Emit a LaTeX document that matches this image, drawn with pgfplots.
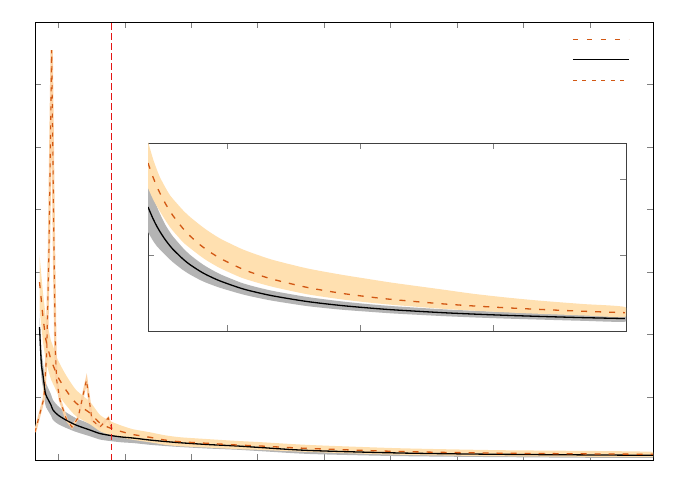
\documentclass[border=0pt]{standalone}
\usepackage{pgfplots}
\pgfplotsset{compat=1.18}
\usepackage{pgfplotstable}
\definecolor{vermil}{RGB}{210,88,20}
\definecolor{oband}{RGB}{255,224,176}
\definecolor{gband}{RGB}{180,180,180}
\definecolor{spkhalo}{RGB}{252,210,165}
\definecolor{redline}{RGB}{228,20,20}
\definecolor{tickgray}{RGB}{128,128,128}

% main curves: black (b) and orange dashed (o)
\pgfplotstableread{
x b o
0.713 2.125 2.843
0.740 1.550 2.556
0.765 1.358 2.284
0.790 1.150 2.077
0.810 1.038 1.917
0.886 0.879 1.597
0.916 0.799 1.518
0.991 0.719 1.326
1.111 0.639 1.118
1.262 0.559 0.911
1.473 0.479 0.751
1.623 0.423 0.590
1.789 0.391 0.506
1.955 0.367 0.452
2.121 0.351 0.407
2.376 0.319 0.363
2.602 0.296 0.319
2.828 0.276 0.292
3.234 0.248 0.267
3.687 0.224 0.240
4.034 0.200 0.224
4.785 0.152 0.184
6.142 0.112 0.136
7.648 0.091 0.109
9.946 0.075 0.091
}\maintab

% grey band (upper edge forward, lower edge back)
\pgfplotstableread{
x y
0.713 2.345
0.740 1.760
0.765 1.558
0.790 1.345
0.810 1.228
0.886 1.049
0.916 0.959
0.991 0.863
1.111 0.764
1.262 0.669
1.473 0.579
1.623 0.519
1.789 0.481
1.955 0.452
2.121 0.431
2.376 0.395
2.602 0.368
2.828 0.344
3.234 0.312
3.687 0.284
4.034 0.258
4.785 0.208
6.142 0.162
7.648 0.136
9.946 0.115
9.946 0.035
7.648 0.046
6.142 0.062
4.785 0.096
4.034 0.142
3.687 0.164
3.234 0.184
2.828 0.208
2.602 0.224
2.376 0.243
2.121 0.271
1.955 0.282
1.789 0.301
1.623 0.327
1.473 0.379
1.262 0.449
1.111 0.514
0.991 0.575
0.916 0.639
0.886 0.709
0.810 0.848
0.790 0.955
0.765 1.158
0.740 1.340
0.713 1.905
}\gbandtab

% orange band
\pgfplotstableread{
x y
0.713 3.273
0.740 2.966
0.765 2.674
0.790 2.447
0.810 2.267
0.886 1.907
0.916 1.818
0.991 1.596
1.111 1.358
1.262 1.121
1.473 0.931
1.623 0.720
1.789 0.616
1.955 0.547
2.121 0.492
2.376 0.443
2.602 0.395
2.828 0.364
3.234 0.335
3.687 0.305
4.034 0.286
4.785 0.240
6.142 0.188
7.648 0.157
9.946 0.131
9.946 0.051
7.648 0.061
6.142 0.084
4.785 0.128
4.034 0.162
3.687 0.175
3.234 0.199
2.828 0.220
2.602 0.243
2.376 0.283
2.121 0.322
1.955 0.357
1.789 0.396
1.623 0.460
1.473 0.571
1.262 0.701
1.111 0.878
0.991 1.056
0.916 1.218
0.886 1.287
0.810 1.567
0.790 1.707
0.765 1.894
0.740 2.146
0.713 2.413
}\obandtab

\pgfplotstableread{
x y
0.645 0.447
0.780 0.990
0.821 1.709
0.855 3.355
0.896 6.550
0.931 3.355
0.953 1.709
0.971 1.278
1.021 0.958
1.122 0.639
1.202 0.527
1.292 0.671
1.420 1.278
1.503 0.639
1.623 0.527
1.748 0.671
1.800 0.511
}\spiketab

% inset: O orange dashed, B black
\pgfplotstableread{
x O B
0.406 2.211 1.632
0.444 2.024 1.477
0.474 1.897 1.373
0.496 1.813 1.307
0.534 1.686 1.205
0.571 1.577 1.121
0.594 1.517 1.074
0.669 1.349 0.947
0.722 1.251 0.873
0.797 1.135 0.787
0.850 1.066 0.736
0.947 0.958 0.659
1.098 0.829 0.566
1.195 0.763 0.520
1.346 0.680 0.462
1.602 0.574 0.388
1.850 0.499 0.337
2.053 0.452 0.305
2.248 0.414 0.279
2.602 0.360 0.243
2.850 0.330 0.223
3.105 0.305 0.206
3.353 0.284 0.192
3.677 0.260 0.176
3.992 0.241 0.164
}\insettab

\pgfplotstableread{
x y
0.406 1.962
0.444 1.767
0.474 1.633
0.496 1.542
0.534 1.405
0.571 1.301
0.594 1.244
0.669 1.092
0.722 1.003
0.797 0.902
0.850 0.841
0.947 0.749
1.098 0.641
1.195 0.590
1.346 0.527
1.602 0.448
1.850 0.392
2.053 0.355
2.248 0.327
2.602 0.288
2.850 0.267
3.105 0.249
3.353 0.234
3.677 0.218
3.992 0.206
3.992 0.122
3.677 0.134
3.353 0.150
3.105 0.163
2.850 0.179
2.602 0.198
2.248 0.231
2.053 0.255
1.850 0.282
1.602 0.328
1.346 0.397
1.195 0.450
1.098 0.491
0.947 0.569
0.850 0.631
0.797 0.672
0.722 0.743
0.669 0.802
0.594 0.904
0.571 0.941
0.534 1.005
0.496 1.072
0.474 1.113
0.444 1.187
0.406 1.302
}\igbandtab

\pgfplotstableread{
x y
0.406 2.491
0.444 2.264
0.474 2.117
0.496 2.023
0.534 1.896
0.571 1.787
0.594 1.737
0.669 1.589
0.722 1.501
0.797 1.395
0.850 1.326
0.947 1.218
1.098 1.089
1.195 1.023
1.346 0.935
1.602 0.824
1.850 0.744
2.053 0.687
2.248 0.634
2.602 0.550
2.850 0.490
3.105 0.440
3.353 0.399
3.677 0.355
3.992 0.316
3.992 0.186
3.677 0.205
3.353 0.226
3.105 0.245
2.850 0.268
2.602 0.295
2.248 0.344
2.053 0.377
1.850 0.419
1.602 0.484
1.346 0.580
1.195 0.653
1.098 0.709
0.947 0.828
0.850 0.926
0.797 0.990
0.722 1.091
0.669 1.169
0.594 1.317
0.571 1.367
0.534 1.466
0.496 1.573
0.474 1.637
0.444 1.734
0.406 1.881
}\iobandtab

\begin{document}
\begin{tikzpicture}
\path (-35pt,-25pt) rectangle (657pt,460pt);
\begin{axis}[
  at={(0pt,0pt)}, anchor=south west,
  scale only axis, width=618pt, height=438pt,
  xmin=0.645, xmax=9.95, ymin=0, ymax=7,
  xtick={1,...,9}, ytick={1,...,6},
  xticklabels={}, yticklabels={},
  tick style={color=tickgray, line width=0.8pt},
  major tick length=6pt,
  axis line style={color=black, line width=0.7pt},
  legend style={draw=none, fill=none, at={(0.869,0.963)}, anchor=north west,
    inner sep=0pt, row sep=19pt, nodes={inner sep=0pt}},
  legend image code/.code={\draw[#1] (0pt,0pt) -- (56pt,0pt);},
]
\addlegendimage{color=vermil, line width=1.2pt, dash pattern=on 5.5pt off 8.5pt}
\addlegendentry{}
\addlegendimage{color=black, line width=1.3pt}
\addlegendentry{}
\addlegendimage{color=vermil, line width=1.1pt, dash pattern=on 4pt off 5.5pt}
\addlegendentry{}

\addplot[color=gband, fill=gband, draw=none, smooth, tension=0.4, forget plot] table[x=x,y=y]{\gbandtab};
\addplot[color=oband, fill=oband, draw=none, smooth, tension=0.4, forget plot] table[x=x,y=y]{\obandtab};

\addplot[color=spkhalo, line width=2.4pt, forget plot] table[x=x,y=y]{\spiketab};
\addplot[color=vermil, line width=1.1pt, dash pattern=on 4pt off 5.5pt, forget plot] table[x=x,y=y]{\spiketab};

\addplot[color=black, smooth, tension=0.5, line width=1.3pt, forget plot] table[x=x,y=b]{\maintab};
\addplot[color=vermil, smooth, tension=0.5, line width=1.3pt, dash pattern=on 6pt off 8pt, forget plot] table[x=x,y=o]{\maintab};

\addplot[color=redline, line width=1.2pt, dash pattern=on 6.5pt off 3.5pt, forget plot] coordinates {(1.80,0) (1.80,3.5) (1.80,7)};
\end{axis}

\begin{axis}[
  at={(113pt,129pt)}, anchor=south west,
  scale only axis, width=478pt, height=188pt,
  xmin=0.406, xmax=4.0, ymin=0, ymax=2.474,
  xtick={1,2,3}, ytick={1,2},
  xticklabels={}, yticklabels={},
  tick style={color=tickgray, line width=0.8pt},
  major tick length=6pt,
  axis line style={color=black!75, line width=0.7pt},
  axis background/.style={fill=white},
]
\addplot[color=gband, fill=gband, draw=none, smooth, tension=0.4] table[x=x,y=y]{\igbandtab};
\addplot[color=oband, fill=oband, draw=none, smooth, tension=0.4] table[x=x,y=y]{\iobandtab};
\addplot[color=black, smooth, line width=1.3pt] table[x=x,y=B]{\insettab};
\addplot[color=vermil, smooth, line width=1.3pt, dash pattern=on 6pt off 8pt] table[x=x,y=O]{\insettab};
\end{axis}
\end{tikzpicture}
\end{document}
